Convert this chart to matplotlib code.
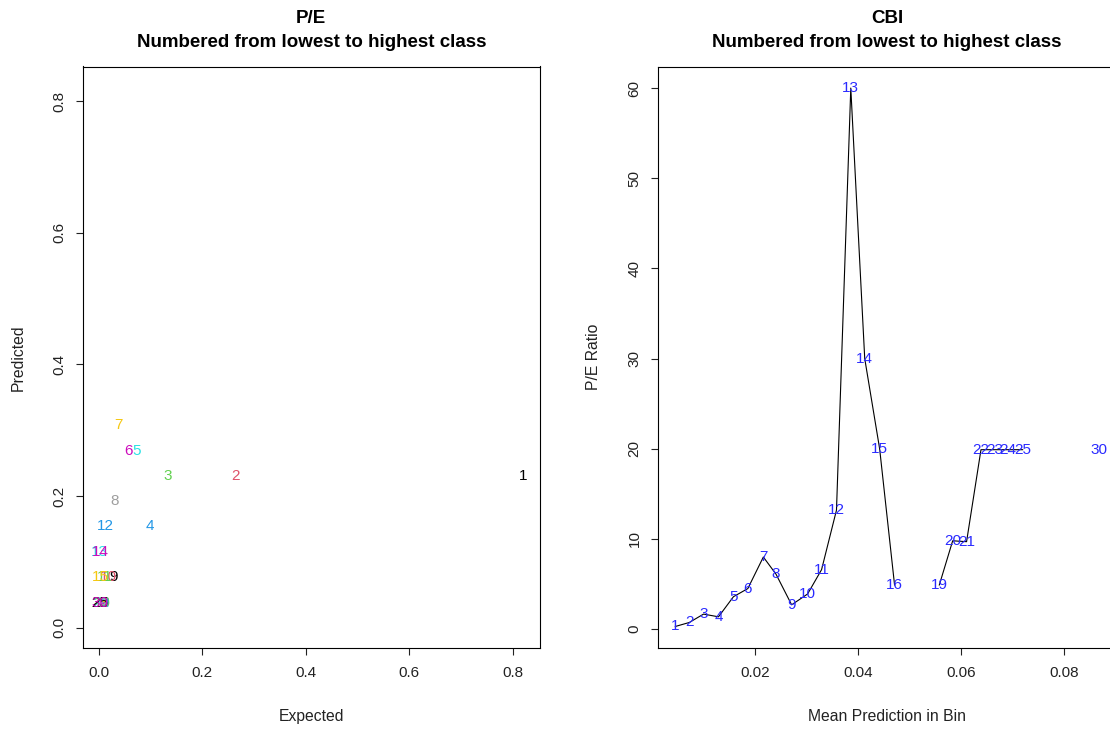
import numpy as np
import matplotlib
matplotlib.use("Agg")
import matplotlib.pyplot as plt

plt.rcParams['font.family'] = ['Liberation Sans', 'DejaVu Sans']

nan = np.nan
# Left panel: Expected vs Predicted, labelled by class number
pe_labels = [str(i) for i in range(1, 31)]
expected = [0.82, 0.2645, 0.133, 0.099, 0.073, 0.0585, 0.038, 0.031, 0.0285, 0.0197,
            0.0117, 0.013, 0.0019, 0.0038, 0.0038, 0.0077, nan, nan, 0.0077, 0.0039,
            0.0039, 0.0019, 0.0019, 0.0019, 0.0019, nan, nan, nan, nan, 0.0019]
predicted = [0.231, 0.231, 0.231, 0.154, 0.269, 0.269, 0.308, 0.192, 0.077, 0.077,
             0.077, 0.154, 0.115, 0.115, 0.077, 0.038, nan, nan, 0.038, 0.038,
             0.038, 0.038, 0.038, 0.038, 0.038, nan, nan, nan, nan, 0.038]
r_palette = ["black", "#DF536B", "#61D04F", "#2297E6", "#28E2E5", "#CD0BBC", "#F5C710", "#9E9E9E"]

# Right panel: CBI, P/E ratio per bin
mean_pred = [0.00448, 0.00719, 0.00996, 0.01287, 0.01578, 0.01857, 0.02159, 0.02405, 0.02709, 0.03019,
             0.03291, 0.03581, 0.03859, 0.0413, 0.0442, 0.0471, nan, nan, 0.0558, 0.0584,
             0.0611, 0.0639, 0.0665, 0.0691, 0.0720, nan, nan, nan, nan, 0.0868]
pe_ratio = [0.3, 0.74, 1.67, 1.37, 3.6, 4.5, 8.0, 6.1, 2.7, 3.9,
            6.6, 13.2, 60.0, 30.0, 20.0, 4.9, nan, nan, 4.9, 9.8,
            9.7, 19.9, 19.9, 19.9, 19.9, nan, nan, nan, nan, 19.9]

W, H = 1110, 731
fig = plt.figure(figsize=(W / 100, H / 100), dpi=100)

def px_axes(x0, y0, x1, y1):
    return fig.add_axes([x0 / W, 1 - y1 / H, (x1 - x0) / W, (y1 - y0) / H])

def rlim(vals):
    v = np.array(vals, dtype=float)
    lo, hi = np.nanmin(v), np.nanmax(v)
    r = hi - lo
    return lo - 0.04 * r, hi + 0.04 * r

def style(ax):
    for s in ax.spines.values():
        s.set_linewidth(0.8)
        s.set_color("black")
    ax.tick_params(axis="both", direction="out", length=5, width=0.8,
                   labelsize=11, pad=7, colors="#222222", labelcolor="#222222")
    ax.tick_params(axis="x", pad=8)
    for lab in ax.get_yticklabels():
        lab.set_rotation(90)
        lab.set_va("center")

TFS = 13.5
# ---- Left panel
ax1 = px_axes(82.7, 66.5, 540, 648)
allv = [v for v in expected + predicted]
lim = rlim(allv)
ax1.set_xlim(*lim)
ax1.set_ylim(*lim)
for i, (x, y, lab) in enumerate(zip(expected, predicted, pe_labels)):
    if np.isnan(x) or np.isnan(y):
        continue
    ax1.text(x, y, lab, color=r_palette[i % 8], fontsize=11, ha="center", va="center")
ax1.set_xticks([0.0, 0.2, 0.4, 0.6, 0.8])
ax1.set_yticks([0.0, 0.2, 0.4, 0.6, 0.8])
ax1.set_xticklabels(["0.0", "0.2", "0.4", "0.6", "0.8"])
ax1.set_yticklabels(["0.0", "0.2", "0.4", "0.6", "0.8"])
style(ax1)
ax1.set_xlabel("Expected", fontsize=11.3, labelpad=21, color="#222222")
ax1.set_ylabel("Predicted", fontsize=11.3, labelpad=19, color="#222222")
ax1.set_title("P/E\nNumbered from lowest to highest class", fontsize=TFS,
              fontweight="bold", pad=14, linespacing=1.55)

# ---- Right panel
ax2 = px_axes(658.4, 66.5, 1115.7, 648)
ax2.set_xlim(*rlim(mean_pred))
ax2.set_ylim(*rlim(pe_ratio))
ax2.plot(mean_pred, pe_ratio, color="black", lw=0.8)
for x, y, lab in zip(mean_pred, pe_ratio, pe_labels):
    if np.isnan(x) or np.isnan(y):
        continue
    ax2.text(x, y, lab, color="#2a2aff", fontsize=11, ha="center", va="center")
ax2.set_xticks([0.02, 0.04, 0.06, 0.08])
ax2.set_xticklabels(["0.02", "0.04", "0.06", "0.08"])
ax2.set_yticks([0, 10, 20, 30, 40, 50, 60])
ax2.set_yticklabels(["0", "10", "20", "30", "40", "50", "60"])
style(ax2)
ax2.set_xlabel("Mean Prediction in Bin", fontsize=11.3, labelpad=21, color="#222222")
ax2.set_ylabel("P/E Ratio", fontsize=11.3, labelpad=19, color="#222222")
ax2.set_title("CBI\nNumbered from lowest to highest class", fontsize=TFS,
              fontweight="bold", pad=14, linespacing=1.55)

fig.savefig("out.png", dpi=100, facecolor="white")
